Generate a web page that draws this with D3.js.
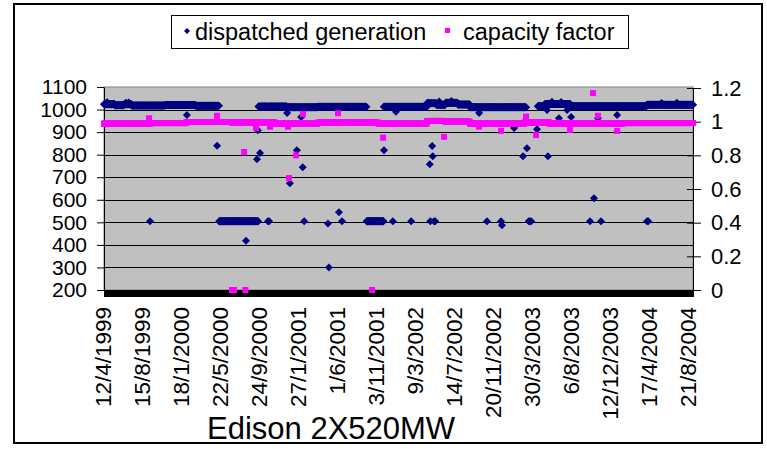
<!DOCTYPE html>
<html>
<head>
<meta charset="utf-8">
<script src="https://cdn.jsdelivr.net/npm/d3@7"></script>
<style>
  html, body { margin: 0; padding: 0; background: #fff; }
  svg { display: block; font-family: Arial, "Liberation Sans", sans-serif; }
</style>
</head>
<body>
<svg id="chart" width="767" height="449"></svg>
<script>
// Daily records of the unit, one category per recorded day.
const categoryCount = 1934;
const labelEvery = 128;
const dateLabels = ["12/4/1999", "15/8/1999", "18/1/2000", "22/5/2000", "24/9/2000",
  "27/1/2001", "1/6/2001", "3/11/2001", "9/3/2002", "14/7/2002", "20/11/2002",
  "30/3/2003", "6/8/2003", "12/12/2003", "17/4/2004", "21/8/2004"];
const leftTicks = [200, 300, 400, 500, 600, 700, 800, 900, 1000, 1100];
const rightTicks = [0, 0.2, 0.4, 0.6, 0.8, 1, 1.2];

// Dispatched generation (MW): steady stretches [firstDay, lastDay, value]
const generationRuns = [
  [0, 35, 1024], [36, 65, 1019], [66, 90, 1024], [91, 200, 1018], [201, 300, 1020], [301, 377, 1017],
  [378, 506, 505],
  [507, 600, 1013], [601, 700, 1010], [701, 861, 1012],
  [862, 917, 505],
  [918, 1059, 1012], [1060, 1090, 1028], [1091, 1120, 1021], [1121, 1160, 1030], [1161, 1200, 1022],
  [1201, 1385, 1010],
  [1424, 1446, 1015], [1447, 1530, 1025], [1531, 1780, 1015], [1781, 1933, 1021]
];
// Dispatched generation (MW): single days off the steady level [day, value]
const generationDays = [
  [10, 1032], [72, 1030], [81, 1031], [151, 505], [272, 976], [371, 840], [466, 418], [502, 780],
  [505, 908], [512, 807], [538, 505], [542, 505], [601, 985], [610, 673], [633, 820], [647, 967],
  [652, 744], [657, 505], [735, 495], [738, 300], [771, 545], [781, 505], [919, 820], [948, 505],
  [958, 990], [1008, 505], [1069, 758], [1071, 505], [1077, 838], [1079, 793], [1083, 505],
  [1087, 505], [1100, 1036], [1140, 1038], [1231, 985], [1257, 505], [1303, 505], [1306, 487],
  [1346, 918], [1375, 793], [1388, 829], [1394, 505], [1398, 505], [1402, 505], [1421, 913],
  [1454, 998], [1457, 793], [1470, 1035], [1500, 1034], [1493, 962], [1520, 998], [1533, 967],
  [1595, 505], [1608, 607], [1621, 962], [1631, 505], [1684, 976], [1782, 505], [1786, 505],
  [1830, 1029], [1880, 1030]
];

// Capacity factor: steady stretches [firstDay, lastDay, value]
const capacityRuns = [
  [0, 150, 0.988], [151, 270, 0.992], [271, 420, 0.998], [421, 560, 0.994], [561, 700, 0.99],
  [701, 900, 0.993], [901, 1059, 0.99], [1060, 1120, 1.004], [1121, 1200, 0.999], [1201, 1380, 0.99],
  [1381, 1460, 0.995], [1461, 1700, 0.99], [1701, 1933, 0.992]
];
// Capacity factor: single days off the steady level [day, value]
const capacityDays = [
  [148, 1.02], [371, 1.035], [420, 0], [427, 0], [460, 0.82], [464, 0], [499, 0.963], [545, 0.97],
  [604, 0.97], [607, 0.665], [630, 0.8], [653, 1.046], [768, 1.05], [880, 0], [916, 0.905],
  [1116, 0.91], [1231, 0.97], [1303, 0.945], [1385, 1.03], [1418, 0.92], [1529, 0.95],
  [1605, 1.17], [1621, 1.035], [1684, 0.945]
];

const seriesNames = ["dispatched generation", "capacity factor"];
const chartTitle = "Edison 2X520MW";

function buildSeries(runs, days) {
  const values = new Array(categoryCount).fill(null);
  runs.forEach(([a, b, v]) => { for (let i = a; i <= b; i++) values[i] = v; });
  days.forEach(([i, v]) => { values[i] = v; });
  return values.map((v, i) => ({ i, v })).filter(d => d.v !== null);
}
const generation = buildSeries(generationRuns, generationDays);
const capacity = buildSeries(capacityRuns, capacityDays);

const svg = d3.select("#chart");
const plot = { left: 104, right: 693, top: 87, bottom: 290 };
const font = "Arial, 'Liberation Sans', sans-serif";

const x = d3.scaleLinear().domain([0, categoryCount - 1]).range([plot.left, plot.right]);
const yL = d3.scaleLinear().domain([200, 1100]).range([plot.bottom, plot.top]);
const yR = d3.scaleLinear().domain([0, 1.2]).range([plot.bottom, 88]);

// chart frame
svg.append("rect").attr("x", 14).attr("y", 4).attr("width", 748).attr("height", 439)
  .attr("fill", "#fff").attr("stroke", "#000").attr("stroke-width", 2);

// plot area
svg.append("rect").attr("x", plot.left).attr("y", plot.top)
  .attr("width", plot.right - plot.left).attr("height", plot.bottom - plot.top)
  .attr("fill", "#C0C0C0").attr("stroke", "#808080").attr("stroke-width", 1);

// gridlines
svg.append("g").selectAll("line").data(leftTicks.filter(t => t > 200 && t < 1100)).join("line")
  .attr("x1", plot.left).attr("x2", plot.right)
  .attr("y1", d => Math.round(yL(d)) + 0.5).attr("y2", d => Math.round(yL(d)) + 0.5)
  .attr("stroke", "#000").attr("stroke-width", 1);

// category axis: one tick per day, drawn as a dense band
const xAxis = svg.append("g").attr("transform", `translate(0,${plot.bottom})`)
  .call(d3.axisBottom(x).tickValues(d3.range(categoryCount)).tickSize(7).tickFormat("").tickSizeOuter(0));
xAxis.select(".domain").attr("stroke", "#000");
xAxis.selectAll(".tick line").attr("stroke", "#000").attr("stroke-width", 1);

// category labels
const labelGroup = svg.append("g");
dateLabels.forEach((lab, k) => {
  const px = x(k * labelEvery) - 1;
  labelGroup.append("text")
    .attr("transform", `translate(${px},307) rotate(-90)`)
    .attr("text-anchor", "end").attr("dy", "0.35em")
    .attr("font-size", 22.5).attr("fill", "#000").text(lab);
});

// left value axis
const leftAxis = svg.append("g").attr("transform", `translate(${plot.left},0)`)
  .call(d3.axisLeft(yL).tickValues(leftTicks).tickSize(7).tickPadding(10).tickSizeOuter(0).tickFormat(d3.format("d")));
leftAxis.select(".domain").attr("stroke", "#000");
leftAxis.selectAll(".tick line").attr("stroke", "#000");
leftAxis.selectAll(".tick text").attr("font-size", 21).attr("font-family", font).attr("fill", "#000");

// right value axis (ticks cross the axis line)
const rightAxis = svg.append("g").attr("transform", `translate(${plot.right},0)`)
  .call(d3.axisRight(yR).tickValues(rightTicks).tickSize(8).tickPadding(10).tickSizeOuter(0).tickFormat(d => d3.format("~g")(d)));
rightAxis.select(".domain").attr("stroke", "#000");
rightAxis.selectAll(".tick line").attr("stroke", "#000").attr("x1", -6);
rightAxis.selectAll(".tick text").attr("font-size", 22).attr("font-family", font).attr("fill", "#000");

// dispatched generation markers
const diamond = "M0,-4L4,0L0,4L-4,0Z";
svg.append("g").selectAll("path").data(generation).join("path")
  .attr("d", diamond)
  .attr("transform", d => `translate(${x(d.i)},${yL(d.v)})`)
  .attr("fill", "#000080");

// capacity factor markers
svg.append("g").selectAll("rect").data(capacity).join("rect")
  .attr("x", d => x(d.i) - 3).attr("y", d => yR(d.v) - 3)
  .attr("width", 6).attr("height", 6)
  .attr("fill", "#FF00FF");

// legend
const legend = svg.append("g");
legend.append("rect").attr("x", 171.5).attr("y", 15.5).attr("width", 457).attr("height", 33)
  .attr("fill", "#fff").attr("stroke", "#000").attr("stroke-width", 1);
legend.append("path").attr("d", "M0,-3L3,0L0,3L-3,0Z").attr("transform", "translate(187,31)").attr("fill", "#000080");
legend.append("text").attr("x", 195).attr("y", 39.5).attr("font-size", 23.5).text(seriesNames[0]);
legend.append("rect").attr("x", 445).attr("y", 28).attr("width", 5).attr("height", 5).attr("fill", "#FF00FF");
legend.append("text").attr("x", 463).attr("y", 39.5).attr("font-size", 23.5).text(seriesNames[1]);

// title below the chart
svg.append("text").attr("x", 207).attr("y", 439).attr("font-size", 31).attr("fill", "#000").text(chartTitle);
</script>
</body>
</html>
